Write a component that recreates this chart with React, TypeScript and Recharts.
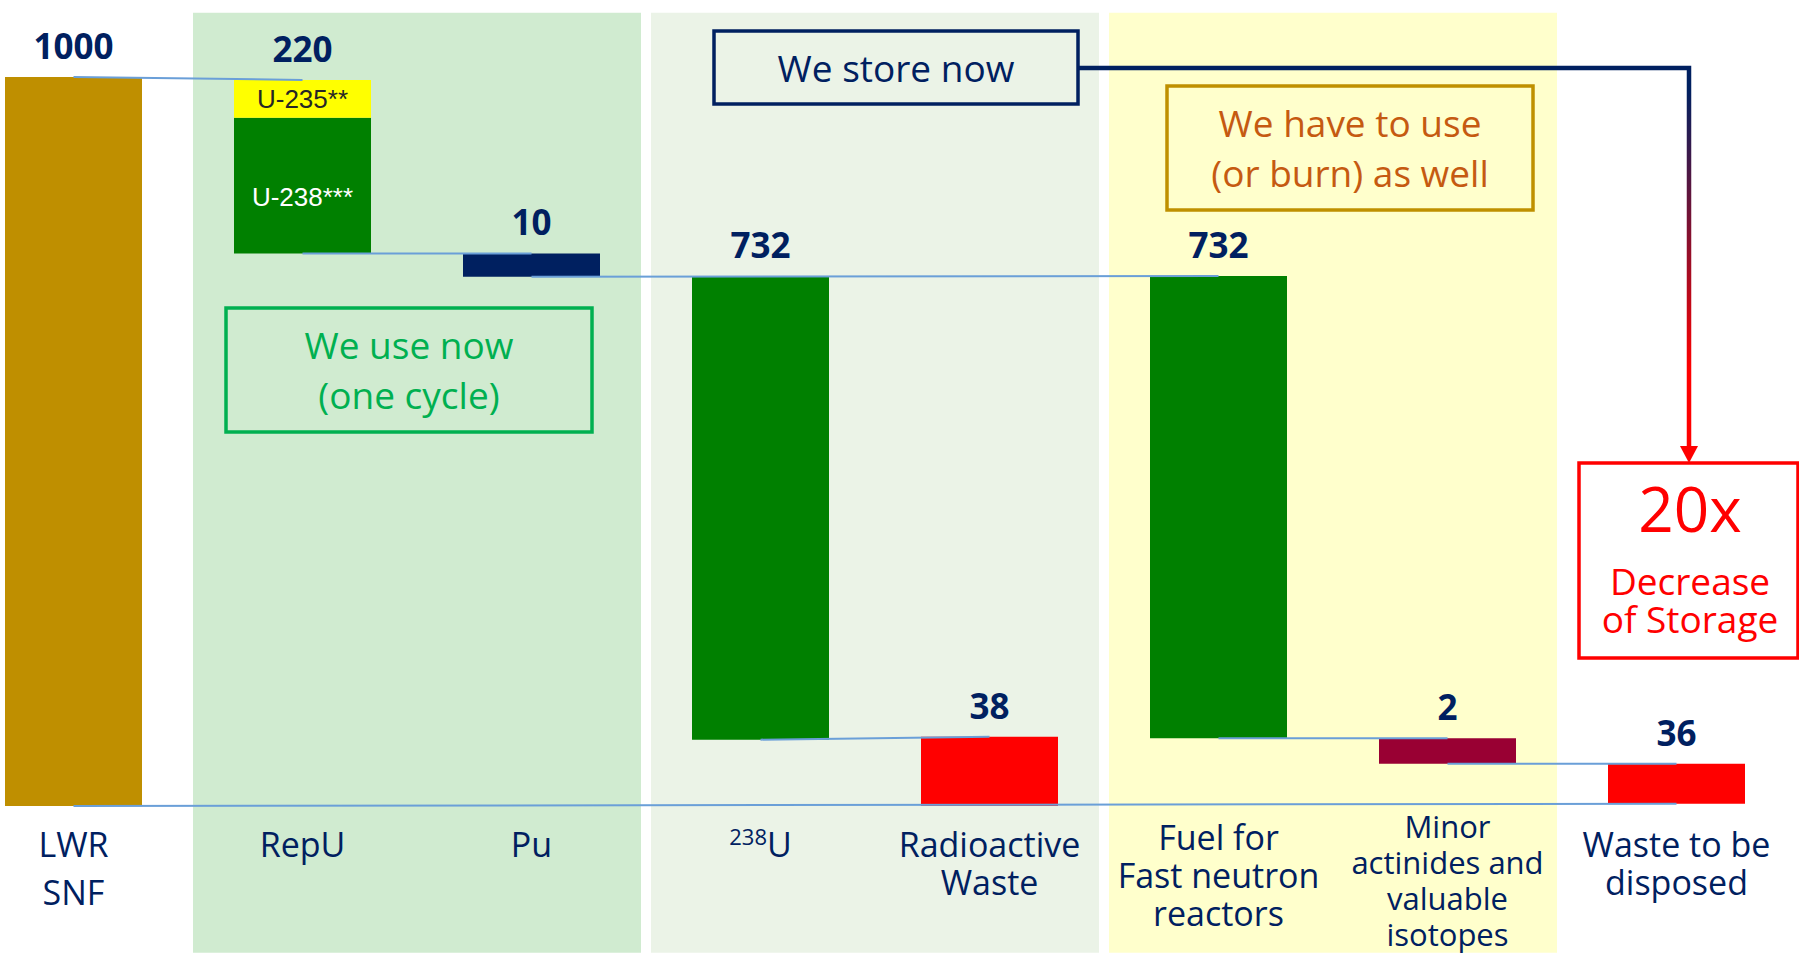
import React from 'react';
import { BarChart, Bar, XAxis, YAxis, ReferenceArea, ReferenceLine, LabelList, Cell } from 'recharts';

const FONT = '"Open Sans", "Noto Sans", sans-serif';
const NAVY = '#002060';

const categories = [
    'LWR SNF', 'RepU', 'Pu', '238U', 'Radioactive Waste',
    'Fuel for Fast neutron reactors', 'Minor actinides and valuable isotopes', 'Waste to be disposed'
];
const tickLines = [
    ['LWR', 'SNF'], ['RepU'], ['Pu'], ['238U'], ['Radioactive', 'Waste'],
    ['Fuel for', 'Fast neutron', 'reactors'], ['Minor', 'actinides and', 'valuable', 'isotopes'], ['Waste to be', 'disposed']
];
// numbers printed over the bars
const valueLabels = ['1000', '220', '10', '732', '38', '732', '2', '36'];
// the slide is a schematic, not to scale: bar extents as drawn, on a 0..1000 axis
const barLow = [0, 758, 726, 91, 0, 93, 58, 3];
const barHigh = [1000, 944, 758, 727, 95, 727, 93, 58];
const barColors = ['#BF8F00', '#008000', '#002060', '#008000', '#FF0000', '#008000', '#990033', '#FF0000'];
// U-235 part sits on top of the RepU bar
const u235Range = [944, 996];

// thin connectors between bars: [from, y, to, y]
const connectors: [string, number, string, number][] = [
    ['LWR SNF', 1000, 'RepU', 996],
    ['RepU', 758, 'Pu', 758],
    ['Pu', 726, 'Fuel for Fast neutron reactors', 727],
    ['238U', 91, 'Radioactive Waste', 95],
    ['LWR SNF', 0, 'Waste to be disposed', 3],
    ['Fuel for Fast neutron reactors', 93, 'Minor actinides and valuable isotopes', 93],
    ['Minor actinides and valuable isotopes', 58, 'Waste to be disposed', 58],
];

const bands = [
    { from: 'RepU', to: 'Pu', color: '#D0EBD0' },
    { from: '238U', to: 'Radioactive Waste', color: '#EBF3E7' },
    { from: 'Fuel for Fast neutron reactors', to: 'Minor actinides and valuable isotopes', color: '#FFFFCC' },
];

const data = categories.map((name, i) => ({
    name,
    range: [barLow[i], barHigh[i]],
    top: i === 1 ? u235Range : null,
    mainLabel: i === 1 ? '' : valueLabels[i],
    topLabel: i === 1 ? valueLabels[i] : '',
    inner: i === 1 ? 'U-238***' : '',
    topInner: i === 1 ? 'U-235**' : '',
}));

const renderValue = (props: any) => {
    const { x, y, width, value } = props;
    if (!value) return null;
    return (
        <text x={x + width / 2} y={y - 18} textAnchor="middle" fill={NAVY}
            fontFamily={FONT} fontWeight={700} fontSize={35}>{value}</text>
    );
};

const innerLabel = (color: string, dy: number) => (props: any) => {
    const { x, y, width, height, value } = props;
    if (!value) return null;
    return (
        <text x={x + width / 2} y={y + height / 2 + dy} textAnchor="middle" fill={color}
            fontFamily='"Liberation Sans", Arial, sans-serif' fontSize={26}>{value}</text>
    );
};

// first baseline below the axis, by number of lines
const FIRST_LINE = [51, 51, 51, 44, 32];

const CategoryTick = (props: any) => {
    const { x, y, payload } = props;
    const idx = categories.indexOf(payload.value);
    const lines = tickLines[idx] || [];
    const gap = idx === 0 ? 48 : lines.length > 3 ? 36 : 38;
    return (
        <text x={x} y={y + FIRST_LINE[lines.length]} textAnchor="middle" fill={NAVY}
            fontFamily={FONT} fontSize={lines.length > 3 ? 31 : 34}>
            {lines.map((line, k) => {
                const m = line.match(/^(\d+)(\D.*)$/);
                if (m) {
                    return (
                        <React.Fragment key={k}>
                            <tspan fontSize={22} dy={-12}>{m[1]}</tspan>
                            <tspan dy={12}>{m[2]}</tspan>
                        </React.Fragment>
                    );
                }
                return <tspan key={k} x={x} dy={k === 0 ? 0 : gap}>{line}</tspan>;
            })}
        </text>
    );
};

const Lines = ({ x, y, gap, lines, ...rest }: any) => (
    <text x={x} y={y} textAnchor="middle" fontFamily={FONT} {...rest}>
        {lines.map((l: string, k: number) => <tspan key={k} x={x} dy={k === 0 ? 0 : gap}>{l}</tspan>)}
    </text>
);

const Annotations = () => (
    <svg width={1799} height={956} style={{ position: 'absolute', left: 0, top: 0, pointerEvents: 'none' }}>
        <defs>
            <linearGradient id="storeArrow" gradientUnits="userSpaceOnUse" x1="0" y1="90" x2="0" y2="370">
                <stop offset="0" stopColor="#002060" />
                <stop offset="1" stopColor="#FF0000" />
            </linearGradient>
        </defs>
        <rect x={714} y={31} width={364} height={73} fill="none" stroke={NAVY} strokeWidth={3.5} />
        <text x={896} y={82} textAnchor="middle" fill={NAVY} fontFamily={FONT} fontSize={37}>We store now</text>
        <path d="M1078,68 H1689 V448" fill="none" stroke="url(#storeArrow)" strokeWidth={4.5} />
        <polygon points="1680,446 1698,446 1689,463" fill="#FF0000" />

        <rect x={1167} y={86} width={366} height={124} fill="none" stroke="#BF9000" strokeWidth={3.5} />
        <Lines x={1350} y={137} gap={50} fill="#C55A11" fontSize={37} lines={['We have to use', '(or burn) as well']} />

        <rect x={226} y={308} width={366} height={124} fill="none" stroke="#00B050" strokeWidth={3.5} />
        <Lines x={409} y={359} gap={50} fill="#00B050" fontSize={37} lines={['We use now', '(one cycle)']} />

        <rect x={1579} y={463} width={219} height={195} fill="#fff" stroke="#FF0000" strokeWidth={3.5} />
        <text x={1690} y={532} textAnchor="middle" fill="#FF0000" fontFamily={FONT}>
            <tspan x={1690} fontSize={62}>20x</tspan>
            <tspan x={1690} dy={63} fontSize={37}>Decrease</tspan>
            <tspan x={1690} dy={38} fontSize={37}>of Storage</tspan>
        </text>
    </svg>
);

export default function App() {
    return (
        <div style={{ position: 'relative', width: 1799, height: 956, overflow: 'hidden', background: '#fff' }}>
            <style>{'body{margin:0}'}</style>
            <div style={{ position: 'absolute', left: -41, top: 0 }}>
                <BarChart width={1832} height={956} data={data} barSize={137} barGap={-137}
                    margin={{ top: 77, right: 0, bottom: 0, left: 0 }}>
                    {bands.map(b => (
                        <ReferenceArea key={b.from} x1={b.from} x2={b.to} y1={-208} y2={1095}
                            fill={b.color} fillOpacity={1} stroke="#fff" strokeWidth={10} ifOverflow="visible" />
                    ))}
                    <XAxis dataKey="name" interval={0} axisLine={false} tickLine={false} tickSize={0}
                        tickMargin={0} height={150} tick={<CategoryTick />} />
                    <YAxis hide domain={[0, 1000]} allowDataOverflow />
                    <Bar dataKey="range" isAnimationActive={false}>
                        {data.map((d, i) => <Cell key={d.name} fill={barColors[i]} />)}
                        <LabelList dataKey="mainLabel" content={renderValue} />
                        <LabelList dataKey="inner" content={innerLabel('#fff', 20)} />
                    </Bar>
                    <Bar dataKey="top" fill="#FFFF00" isAnimationActive={false}>
                        <LabelList dataKey="topLabel" content={renderValue} />
                        <LabelList dataKey="topInner" content={innerLabel('#262626', 9)} />
                    </Bar>
                    {connectors.map(([a, ya, b, yb], i) => (
                        <ReferenceLine key={i} segment={[{ x: a, y: ya }, { x: b, y: yb }]}
                            stroke="#6A9FD8" strokeWidth={2} ifOverflow="visible" />
                    ))}
                </BarChart>
            </div>
            <Annotations />
        </div>
    );
}
